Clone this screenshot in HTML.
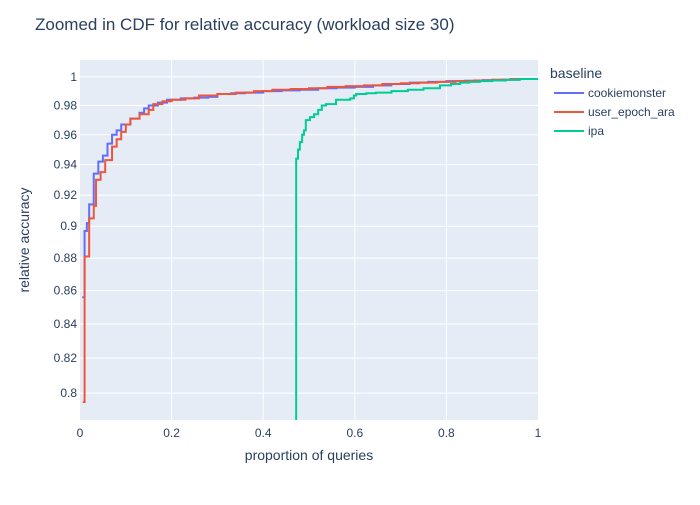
<!DOCTYPE html>
<html><head><meta charset="utf-8"><style>
body{margin:0;background:#fff;font-family:"Liberation Sans",sans-serif}
text{font-family:"Liberation Sans",sans-serif}
</style></head><body>
<svg id="c" width="700" height="500" xmlns="http://www.w3.org/2000/svg">
<rect width="700" height="500" fill="#fff"/>
<text x="35" y="30" font-size="17" fill="#2a3f5f">Zoomed in CDF for relative accuracy (workload size 30)</text>
<rect x="80" y="60" width="458" height="360" fill="#e5ecf6"/>
<g id="grid"></g><g id="series"></g><g id="ticks"></g>
<text x="309" y="460" font-size="14" fill="#2a3f5f" text-anchor="middle">proportion of queries</text>
<text transform="translate(29,240) rotate(-90)" font-size="14" fill="#2a3f5f" text-anchor="middle">relative accuracy</text>
<g>
<text x="550" y="78" font-size="14" fill="#2a3f5f">baseline</text>
<g><line x1="554" y1="93" x2="584" y2="93" stroke="#636efa" stroke-width="2"/><text x="588" y="97" font-size="12" fill="#2a3f5f">cookiemonster</text></g>
<g><line x1="554" y1="112" x2="584" y2="112" stroke="#ef553b" stroke-width="2"/><text x="588" y="116" font-size="12" fill="#2a3f5f">user_epoch_ara</text></g>
<g><line x1="554" y1="131" x2="584" y2="131" stroke="#00cc96" stroke-width="2"/><text x="588" y="135" font-size="12" fill="#2a3f5f">ipa</text></g>
</g>
</svg>
<script>
const xTicks=[0,0.2,0.4,0.6,0.8,1];
const xTickLabels=["0","0.2","0.4","0.6","0.8","1"];
const yTicks=[0.8,0.82,0.84,0.86,0.88,0.9,0.92,0.94,0.96,0.98,1];
const yTickLabels=["0.8","0.82","0.84","0.86","0.88","0.9","0.92","0.94","0.96","0.98","1"];
const seriesNames=["cookiemonster","user_epoch_ara","ipa"];
const cmX=[0.005,0.01,0.015,0.02,0.03,0.04,0.05,0.06,0.07,0.08,0.09,0.11,0.13,0.14,0.15,0.17,0.19,0.22,0.25,0.28,0.3,0.33,0.36,0.4,0.44,0.48,0.52,0.56,0.6,0.64,0.68,0.72,0.76,0.8,0.84,0.88,0.92,0.96,1.0];
const cmY=[0.856,0.897,0.902,0.914,0.934,0.942,0.946,0.954,0.96,0.963,0.967,0.971,0.975,0.978,0.98,0.982,0.984,0.985,0.9855,0.986,0.988,0.9885,0.989,0.990,0.9905,0.991,0.992,0.9925,0.993,0.994,0.995,0.996,0.9965,0.997,0.9973,0.9977,0.998,0.9985,0.999];
const ueX=[0.006,0.01,0.02,0.03,0.035,0.045,0.055,0.07,0.08,0.09,0.1,0.11,0.13,0.15,0.16,0.18,0.2,0.23,0.26,0.3,0.34,0.38,0.42,0.46,0.5,0.54,0.58,0.62,0.66,0.7,0.74,0.78,0.82,0.86,0.9,0.94,1.0];
const ueY=[0.795,0.881,0.905,0.913,0.93,0.935,0.943,0.952,0.957,0.962,0.967,0.971,0.974,0.977,0.981,0.983,0.984,0.985,0.987,0.988,0.989,0.990,0.991,0.9915,0.992,0.993,0.9935,0.994,0.995,0.9955,0.996,0.9965,0.997,0.9975,0.998,0.9985,0.999];
const ipaX=[0.472,0.472,0.476,0.48,0.485,0.489,0.493,0.502,0.511,0.52,0.528,0.537,0.559,0.59,0.598,0.603,0.625,0.646,0.68,0.716,0.75,0.786,0.81,0.83,0.85,0.873,0.9,0.93,0.96,1.0];
const ipaY=[0.78,0.944,0.95,0.955,0.96,0.963,0.97,0.972,0.974,0.977,0.98,0.981,0.984,0.985,0.987,0.988,0.9885,0.989,0.990,0.991,0.992,0.994,0.995,0.996,0.9965,0.997,0.9975,0.998,0.9985,0.999];
const colors=["#636efa","#ef553b","#00cc96"];
const X0=80,X1=538,Y0=60,Y1=420,yMin=0.785,yMax=1.012;
const xs=v=>X0+(v)*(X1-X0);
const ys=v=>Y1-(Math.log10(v)-Math.log10(yMin))/(Math.log10(yMax)-Math.log10(yMin))*(Y1-Y0);
const NS="http://www.w3.org/2000/svg";
const grid=document.getElementById('grid'),tk=document.getElementById('ticks'),sg=document.getElementById('series');
function mk(t,a,p){const e=document.createElementNS(NS,t);for(const k in a)e.setAttribute(k,a[k]);p.appendChild(e);return e;}
xTicks.forEach((v,i)=>{
 if(v>0&&v<1){const l=mk('line',{x1:xs(v),x2:xs(v),y1:Y0,y2:Y1,stroke:'#fff','stroke-width':1},grid);
 
 }
 const t=mk('text',{x:xs(v),y:437,'font-size':12,fill:'#2a3f5f','text-anchor':'middle'},tk);t.textContent=xTickLabels[i];
 
 
});
yTicks.forEach((v,i)=>{
 const l=mk('line',{x1:X0,x2:X1,y1:ys(v),y2:ys(v),stroke:'#fff','stroke-width':1},grid);
 
 
 const t=mk('text',{x:77,y:ys(v)+4,'font-size':12,fill:'#2a3f5f','text-anchor':'end'},tk);t.textContent=yTickLabels[i];
 
 
});
[[cmX,cmY],[ueX,ueY],[ipaX,ipaY]].forEach((s,k)=>{
 const [X,Y]=s;let d='M'+xs(X[0])+','+ys(Y[0]);
 for(let i=1;i<X.length;i++){d+='H'+xs(X[i])+'V'+ys(Y[i]);}
 const p=mk('path',{d:d,fill:'none',stroke:colors[k],'stroke-width':2,'clip-path':'url(#clip)'},sg);
 
 
});
const defs=mk('defs',{},document.getElementById('c'));
const cp=mk('clipPath',{id:'clip'},defs);mk('rect',{x:X0,y:Y0,width:X1-X0,height:Y1-Y0},cp);
</script>
</body></html>
